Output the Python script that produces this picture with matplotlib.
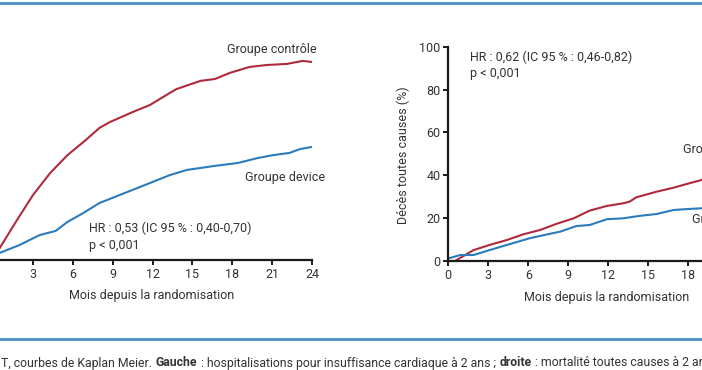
import matplotlib
matplotlib.use("Agg")
import matplotlib.pyplot as plt

plt.rcParams["font.family"] = ["Roboto", "DejaVu Sans"]

# Left panel: hospitalisations pour insuffisance cardiaque
left_months = [0, 0.5, 1.8, 3.0, 4.3, 5.6, 6.8, 8.0, 8.8, 10.5, 11.8, 13.3, 13.8,
               15.6, 16.7, 17.8, 19.3, 20.6, 22.1, 23.3, 24.0]
left_control = [0, 5.6, 18.6, 30.2, 40.5, 48.8, 54.9, 61.4, 64.2, 68.8, 72.1, 77.7, 79.5,
                83.3, 84.2, 87.0, 89.8, 90.7, 91.2, 92.6, 92.1]
left_dev_months = [0, 0.5, 2.0, 3.5, 4.7, 5.6, 6.8, 8.0, 10.5, 13.3, 14.6, 16.6, 18.4,
                   19.9, 21.1, 22.3, 23.1, 24.0]
left_device = [0, 3.3, 7.0, 11.6, 13.5, 17.7, 21.9, 26.5, 32.6, 39.5, 41.9, 43.7, 45.1,
               47.4, 48.8, 49.8, 51.6, 52.6]

# Right panel: mortalite toutes causes
right_ctrl_months = [0, 0.5, 1.9, 3.1, 4.4, 5.6, 6.9, 8.1, 9.4, 10.6, 11.9, 13.1, 13.6,
                     14.1, 15.6, 16.9, 18.1, 19.0, 21.0, 24.0]
right_control = [0, 0, 5.1, 7.5, 9.8, 12.4, 14.5, 17.3, 19.9, 23.5, 25.7, 26.9, 27.7,
                 29.7, 32.3, 34.2, 36.3, 37.8, 41.0, 46.0]
right_dev_months = [0, 0.9, 1.9, 3.1, 4.4, 6.1, 7.4, 8.4, 9.6, 10.6, 11.9, 13.1, 14.4,
                    15.6, 16.9, 18.1, 19.0, 21.0, 24.0]
right_device = [1.2, 2.8, 2.8, 5.1, 7.5, 10.6, 12.4, 13.7, 16.3, 16.8, 19.5, 19.9, 21.1,
                21.9, 23.8, 24.3, 24.6, 26.0, 28.0]

xticks = [0, 3, 6, 9, 12, 15, 18, 21, 24]
yticks = [0, 20, 40, 60, 80, 100]

RED = "#b02a3c"
BLUE = "#2b7bbd"
FRAME = "#4a8fc4"
TXT = "#333333"

W, H = 702, 370
fig = plt.figure(figsize=(W / 100, H / 100), dpi=100)


def box(x0, x1, y_top, y_bot):
    # pixel box -> figure fraction [left, bottom, width, height]
    return [x0 / W, 1 - y_bot / H, (x1 - x0) / W, (y_bot - y_top) / H]


def px(x, y):
    return x / W, 1 - y / H


def style(ax):
    for s in ["top", "right"]:
        ax.spines[s].set_visible(False)
    for s in ["left", "bottom"]:
        ax.spines[s].set_linewidth(1.6)
        ax.spines[s].set_color("#1a1a1a")
    ax.set_xlim(0, 24)
    ax.set_ylim(0, 100)
    ax.set_xticks(xticks)
    ax.set_yticks(yticks)
    ax.tick_params(direction="out", length=3.5, width=1.4, color="#1a1a1a",
                   labelsize=9, labelcolor=TXT, pad=2)
    ax.patch.set_alpha(0)


# left panel (cut on the left side, its y axis lies outside the picture)
axl = fig.add_axes(box(-6.9, 312, 45, 260))
style(axl)
axl.set_xticklabels([""] + [str(t) for t in xticks[1:]])
axl.set_yticklabels([])
axl.plot(left_months, left_control, color=RED, lw=1.5)
axl.plot(left_dev_months, left_device, color=BLUE, lw=1.5)

# right panel (cut on the right side, 21 and 24 fall outside the picture)
axr = fig.add_axes(box(448.3, 768.2, 46.7, 261))
style(axr)
axr.set_xticklabels([str(t) if t <= 18 else "" for t in xticks])
axr.plot(right_ctrl_months, right_control, color=RED, lw=1.5, clip_on=False)
axr.plot(right_dev_months, right_device, color=BLUE, lw=1.5, clip_on=False)

fs = 9
fig.text(*px(227, 50), "Groupe contrôle", fontsize=fs, color=TXT, va="center")
fig.text(*px(245, 178), "Groupe device", fontsize=fs, color=TXT, va="center")
fig.text(*px(89, 228), "HR : 0,53 (IC 95 % : 0,40-0,70)", fontsize=fs, color=TXT, va="center")
fig.text(*px(89, 245), "p < 0,001", fontsize=fs, color=TXT, va="center")
fig.text(*px(152, 295), "Mois depuis la randomisation", fontsize=fs, color=TXT,
         ha="center", va="center")

fig.text(*px(470, 57), "HR : 0,62 (IC 95 % : 0,46-0,82)", fontsize=fs, color=TXT, va="center")
fig.text(*px(470, 73), "p < 0,001", fontsize=fs, color=TXT, va="center")
fig.text(*px(683, 149), "Groupe contrôle", fontsize=fs, color=TXT, va="center")
fig.text(*px(692, 220), "Groupe device", fontsize=fs, color=TXT, va="center")
fig.text(*px(607, 297), "Mois depuis la randomisation", fontsize=fs, color=TXT,
         ha="center", va="center")
fig.text(*px(403, 155), "Décès toutes causes (%)", fontsize=fs, color=TXT,
         rotation=90, ha="center", va="center")

# frame lines
fig.add_artist(plt.Line2D([0, 1], [1 - 3 / H] * 2, color=FRAME, lw=2))
fig.add_artist(plt.Line2D([0, 1], [1 - 339 / H] * 2, color=FRAME, lw=2))

# caption with bold parts
pieces = [("T, courbes de Kaplan Meier.", "normal"), ("Gauche", "bold"),
          (" : hospitalisations pour insuffisance cardiaque à 2 ans ;", "normal"),
          ("droite", "bold"), (" : mortalité toutes causes à 2 ans.", "normal")]
gaps = [4, 0, 4, 0, 0]
fig.canvas.draw()
renderer = fig.canvas.get_renderer()
x = 1
for (s, w), g in zip(pieces, gaps):
    t = fig.text(*px(x, 363), s, fontsize=8.8, color=TXT, weight=w, va="center")
    x = t.get_window_extent(renderer).x1 + g

fig.savefig("out.png", dpi=100)
